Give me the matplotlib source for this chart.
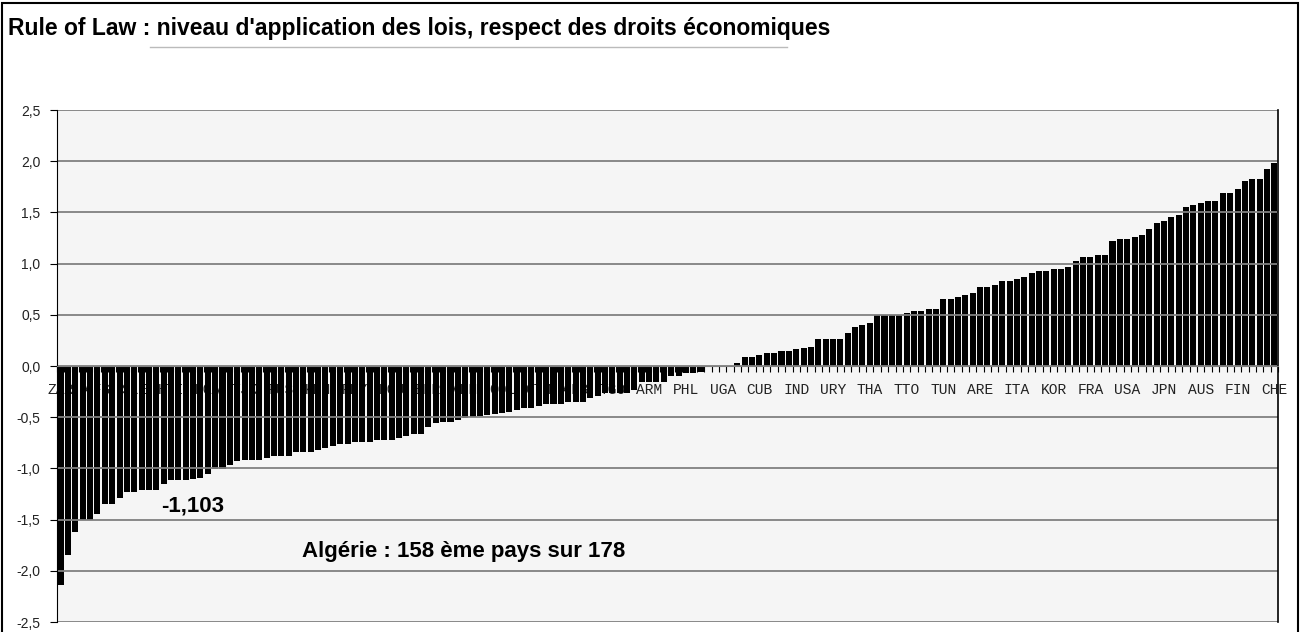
import matplotlib.pyplot as plt
import numpy as np
from matplotlib.patches import Rectangle
from matplotlib.lines import Line2D

# Rule of law scores, sorted ascending (166 countries shown)
scores = [
    -2.14, -1.85, -1.62, -1.50, -1.50, -1.45, -1.35, -1.35, -1.29, -1.23,
    -1.23, -1.21, -1.21, -1.21, -1.15, -1.11, -1.11, -1.11, -1.103, -1.09,
    -1.05, -1.01, -1.01, -0.97, -0.93, -0.915, -0.915, -0.915, -0.895, -0.876,
    -0.876, -0.876, -0.837, -0.837, -0.837, -0.817, -0.798, -0.778, -0.759, -0.759,
    -0.739, -0.739, -0.739, -0.72, -0.72, -0.72, -0.70, -0.68, -0.66, -0.66,
    -0.60, -0.56, -0.55, -0.55, -0.53, -0.51, -0.50, -0.49, -0.48, -0.47,
    -0.46, -0.45, -0.43, -0.407, -0.407, -0.387, -0.368, -0.368, -0.368, -0.348,
    -0.348, -0.348, -0.309, -0.29, -0.267, -0.265, -0.265, -0.265, -0.234, -0.153,
    -0.153, -0.153, -0.153, -0.095, -0.095, -0.072, -0.072, -0.055, 0.0, 0.0,
    0.0, 0.0, 0.032, 0.09, 0.09, 0.107, 0.124, 0.124, 0.146, 0.146,
    0.163, 0.179, 0.19, 0.264, 0.264, 0.264, 0.264, 0.322, 0.381, 0.40,
    0.42, 0.498, 0.498, 0.498, 0.498, 0.518, 0.537, 0.537, 0.557, 0.557,
    0.654, 0.654, 0.674, 0.693, 0.713, 0.771, 0.771, 0.791, 0.83, 0.83,
    0.85, 0.869, 0.908, 0.928, 0.928, 0.947, 0.947, 0.967, 1.025, 1.064,
    1.064, 1.084, 1.084, 1.22, 1.24, 1.24, 1.26, 1.279, 1.338, 1.396,
    1.416, 1.455, 1.475, 1.553, 1.572, 1.592, 1.611, 1.611, 1.689, 1.689,
    1.728, 1.807, 1.826, 1.826, 1.924, 1.98,
]

# one label every 5 countries
tick_labels = [
    "ZAR", "AFG", "SLE", "HTI", "NGA", "TJK", "RUS", "KEN", "PRY", "ECU",
    "BLR", "VEN", "COL", "GTM", "ALB", "TGO", "ARM", "PHL", "UGA", "CUB",
    "IND", "URY", "THA", "TTO", "TUN", "ARE", "ITA", "KOR", "FRA", "USA",
    "JPN", "AUS", "FIN", "CHE",
]

y_ticks = [-2.5, -2.0, -1.5, -1.0, -0.5, 0.0, 0.5, 1.0, 1.5, 2.0, 2.5]

title = "Rule of Law : niveau d'application des lois, respect des droits économiques"
note_value = "-1,103"
note_rank = "Algérie : 158 ème pays sur 178"

plt.rcParams['font.family'] = ['Liberation Sans', 'DejaVu Sans']

fig = plt.figure(figsize=(13, 6.32), dpi=100)
ax = fig.add_axes([57 / 1300, 10 / 632, 1221 / 1300, 512 / 632])
ax.set_facecolor("#f5f5f5")

x = np.arange(len(scores))
ax.bar(x, scores, width=0.82, color="black", zorder=1)

ax.set_xlim(-0.5, len(scores) - 0.5)
ax.set_ylim(-2.5, 2.5)

# grid lines drawn over the bars
for v in y_ticks:
    ax.axhline(v, color="#808080", lw=1.3, zorder=2)

ax.set_axisbelow(True)
ax.spines["top"].set_visible(False)
ax.spines["bottom"].set_position(("data", 0))
ax.spines["bottom"].set_color("#808080")
ax.spines["left"].set_color("black")
ax.spines["right"].set_color("black")
ax.spines["right"].set_linewidth(1.2)

ax.set_yticks(y_ticks, [f"{v:.1f}".replace(".", ",") for v in y_ticks])
ax.tick_params(axis="y", length=5, color="black", labelsize=10, labelcolor="#222222", pad=7)

ax.set_xticks(np.arange(0, len(scores), 5), tick_labels)
ax.set_xticks(np.arange(-0.5, len(scores), 1), minor=True)
ax.tick_params(axis="x", which="major", length=0, pad=12, labelsize=10.5, labelcolor="#222222")
ax.tick_params(axis="x", which="minor", length=4, color="black", width=0.8)
for lab in ax.get_xticklabels():
    lab.set_family(["Liberation Mono", "DejaVu Sans Mono"])

ax.text(13.6, -1.37, note_value, fontsize=16, fontweight="bold", ha="left", va="center", zorder=4)
ax.text(32.8, -1.81, note_rank, fontsize=16, fontweight="bold", ha="left", va="center", zorder=4)

fig.text(8 / 1300, 1 - 28 / 632, title, fontsize=16.5, fontweight="bold", ha="left", va="center")
fig.add_artist(Line2D([150 / 1300, 787 / 1300], [1 - 47 / 632, 1 - 47 / 632],
                      color="#bbbbbb", lw=1, transform=fig.transFigure))

fig.add_artist(Rectangle((2 / 1300, -0.01), 1296 / 1300, 1 - 3 / 632 + 0.01, fill=False,
                         edgecolor="black", lw=1.5, transform=fig.transFigure))

fig.savefig("out.png", dpi=100)
